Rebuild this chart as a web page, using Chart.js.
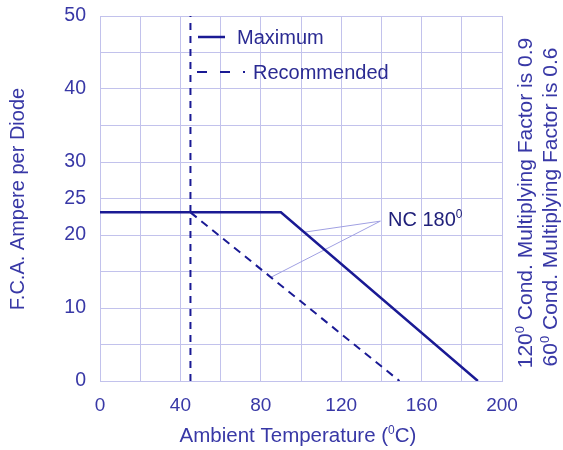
<!DOCTYPE html>
<html>
<head>
<meta charset="utf-8">
<script src="https://cdn.jsdelivr.net/npm/chart.js@4/dist/chart.umd.min.js"></script>
<style>
  html, body { margin: 0; padding: 0; background: #fff; }
  #wrap { width: 563px; height: 450px; }
</style>
</head>
<body>
<div id="wrap"><canvas id="chart"></canvas></div>
<script>
// Données
const maxTemp = [0, 90, 188];
const maxAmp = [23.1, 23.1, 0];
const recTemp = [45, 149];
const recAmp = [23.1, 0];
const limitTemp = [45, 45];
const limitAmp = [0, 50];
const ncLabelPt = [139.5, 21.9];
const ncTargetsTemp = [102, 85];
const ncTargetsAmp = [20.4, 14.2];
const xTickLabels = [0, 40, 80, 120, 160, 200];
const yTickLabels = [0, 10, 20, 25, 30, 40, 50];

const lineColor = '#1a1a94';
const textColor = '#3838a6';
const gridColor = '#c2c2ec';
const leaderColor = '#a0a0e2';
const fontFamily = '"Liberation Sans", Arial, sans-serif';

function pts(xs, ys) {
  return xs.map((x, i) => ({ x: x, y: ys[i] }));
}

// Texte avec exposant (ex : 180⁰)
function drawRich(ctx, parts, x, y, size, align) {
  const supSize = Math.round(size * 0.6);
  let total = 0;
  parts.forEach(p => {
    ctx.font = (p.sup ? supSize : size) + 'px ' + fontFamily;
    p.w = ctx.measureText(p.t).width;
    total += p.w;
  });
  let cx = align === 'center' ? x - total / 2 : x;
  ctx.textBaseline = 'alphabetic';
  ctx.textAlign = 'left';
  parts.forEach(p => {
    ctx.font = (p.sup ? supSize : size) + 'px ' + fontFamily;
    ctx.fillText(p.t, cx, p.sup ? y - size * 0.4 : y);
    cx += p.w;
  });
}

const annotations = {
  id: 'annotations',
  afterDatasetsDraw(chart) {
    const ctx = chart.ctx;
    ctx.save();

    // Légende
    ctx.strokeStyle = lineColor;
    ctx.lineWidth = 2.5;
    ctx.beginPath();
    ctx.moveTo(198, 37);
    ctx.lineTo(225, 37);
    ctx.stroke();
    ctx.setLineDash([10, 13]);
    ctx.lineWidth = 2;
    ctx.beginPath();
    ctx.moveTo(197, 72);
    ctx.lineTo(245, 72);
    ctx.stroke();
    ctx.setLineDash([]);

    ctx.fillStyle = '#2a2a92';
    drawRich(ctx, [{ t: 'Maximum' }], 237, 44, 20, 'left');
    drawRich(ctx, [{ t: 'Recommended' }], 253, 79, 20, 'left');

    // Étiquette NC 180
    ctx.fillStyle = '#20207a';
    drawRich(ctx, [{ t: 'NC 180' }, { t: '0', sup: true }], 388, 226, 20, 'left');

    // Titres des axes
    ctx.fillStyle = textColor;
    drawRich(ctx, [{ t: 'Ambient Temperature (' }, { t: '0', sup: true }, { t: 'C)' }], 298, 442, 20.5, 'center');

    ctx.save();
    ctx.translate(24, 199);
    ctx.rotate(-Math.PI / 2);
    drawRich(ctx, [{ t: 'F.C.A. Ampere per Diode' }], 0, 0, 20, 'center');
    ctx.restore();

    ctx.save();
    ctx.translate(532, 203);
    ctx.rotate(-Math.PI / 2);
    drawRich(ctx, [{ t: '120' }, { t: '0', sup: true }, { t: ' Cond. Multiplying Factor is 0.9' }], 0, 0, 21, 'center');
    ctx.restore();

    ctx.save();
    ctx.translate(557, 207);
    ctx.rotate(-Math.PI / 2);
    drawRich(ctx, [{ t: '60' }, { t: '0', sup: true }, { t: ' Cond. Multiplying Factor is 0.6' }], 0, 0, 21, 'center');
    ctx.restore();

    ctx.restore();
  }
};

const datasets = [
  {
    label: 'Maximum',
    data: pts(maxTemp, maxAmp),
    borderColor: lineColor,
    borderWidth: 2.5
  },
  {
    label: 'Recommended',
    data: pts(recTemp, recAmp),
    borderColor: lineColor,
    borderWidth: 2,
    borderDash: [8, 6]
  },
  {
    label: 'limit',
    data: pts(limitTemp, limitAmp),
    borderColor: lineColor,
    borderWidth: 2,
    borderDash: [7, 6]
  }
];

ncTargetsTemp.forEach((t, i) => {
  datasets.push({
    label: 'nc' + i,
    data: [{ x: ncLabelPt[0], y: ncLabelPt[1] }, { x: t, y: ncTargetsAmp[i] }],
    borderColor: leaderColor,
    borderWidth: 1
  });
});

new Chart(document.getElementById('chart'), {
  type: 'line',
  data: { datasets: datasets },
  options: {
    responsive: true,
    maintainAspectRatio: false,
    animation: false,
    events: [],
    layout: { autoPadding: false, padding: { left: 0, right: 61, top: 16, bottom: 0 } },
    elements: { point: { radius: 0 }, line: { tension: 0, fill: false } },
    plugins: { legend: { display: false }, tooltip: { enabled: false } },
    scales: {
      x: {
        type: 'linear',
        min: 0,
        max: 200,
        afterFit(scale) {
          scale.height = 69;
          scale.paddingLeft = 0;
          scale.paddingRight = 0;
        },
        grid: { color: gridColor, lineWidth: 1, drawTicks: false },
        border: { color: gridColor },
        ticks: {
          stepSize: 20,
          padding: 13,
          color: textColor,
          font: { family: fontFamily, size: 19 },
          maxRotation: 0,
          autoSkip: false,
          callback: v => xTickLabels.includes(v) ? String(v) : ''
        }
      },
      y: {
        type: 'linear',
        min: 0,
        max: 50,
        afterFit(scale) {
          scale.width = 100;
          scale.paddingTop = 0;
          scale.paddingBottom = 0;
        },
        grid: { color: gridColor, lineWidth: 1, drawTicks: false },
        border: { color: gridColor },
        ticks: {
          stepSize: 5,
          padding: 14,
          color: textColor,
          font: { family: fontFamily, size: 19.5 },
          autoSkip: false,
          callback: v => yTickLabels.includes(v) ? String(v) : ''
        }
      }
    }
  },
  plugins: [annotations]
});
</script>
</body>
</html>
